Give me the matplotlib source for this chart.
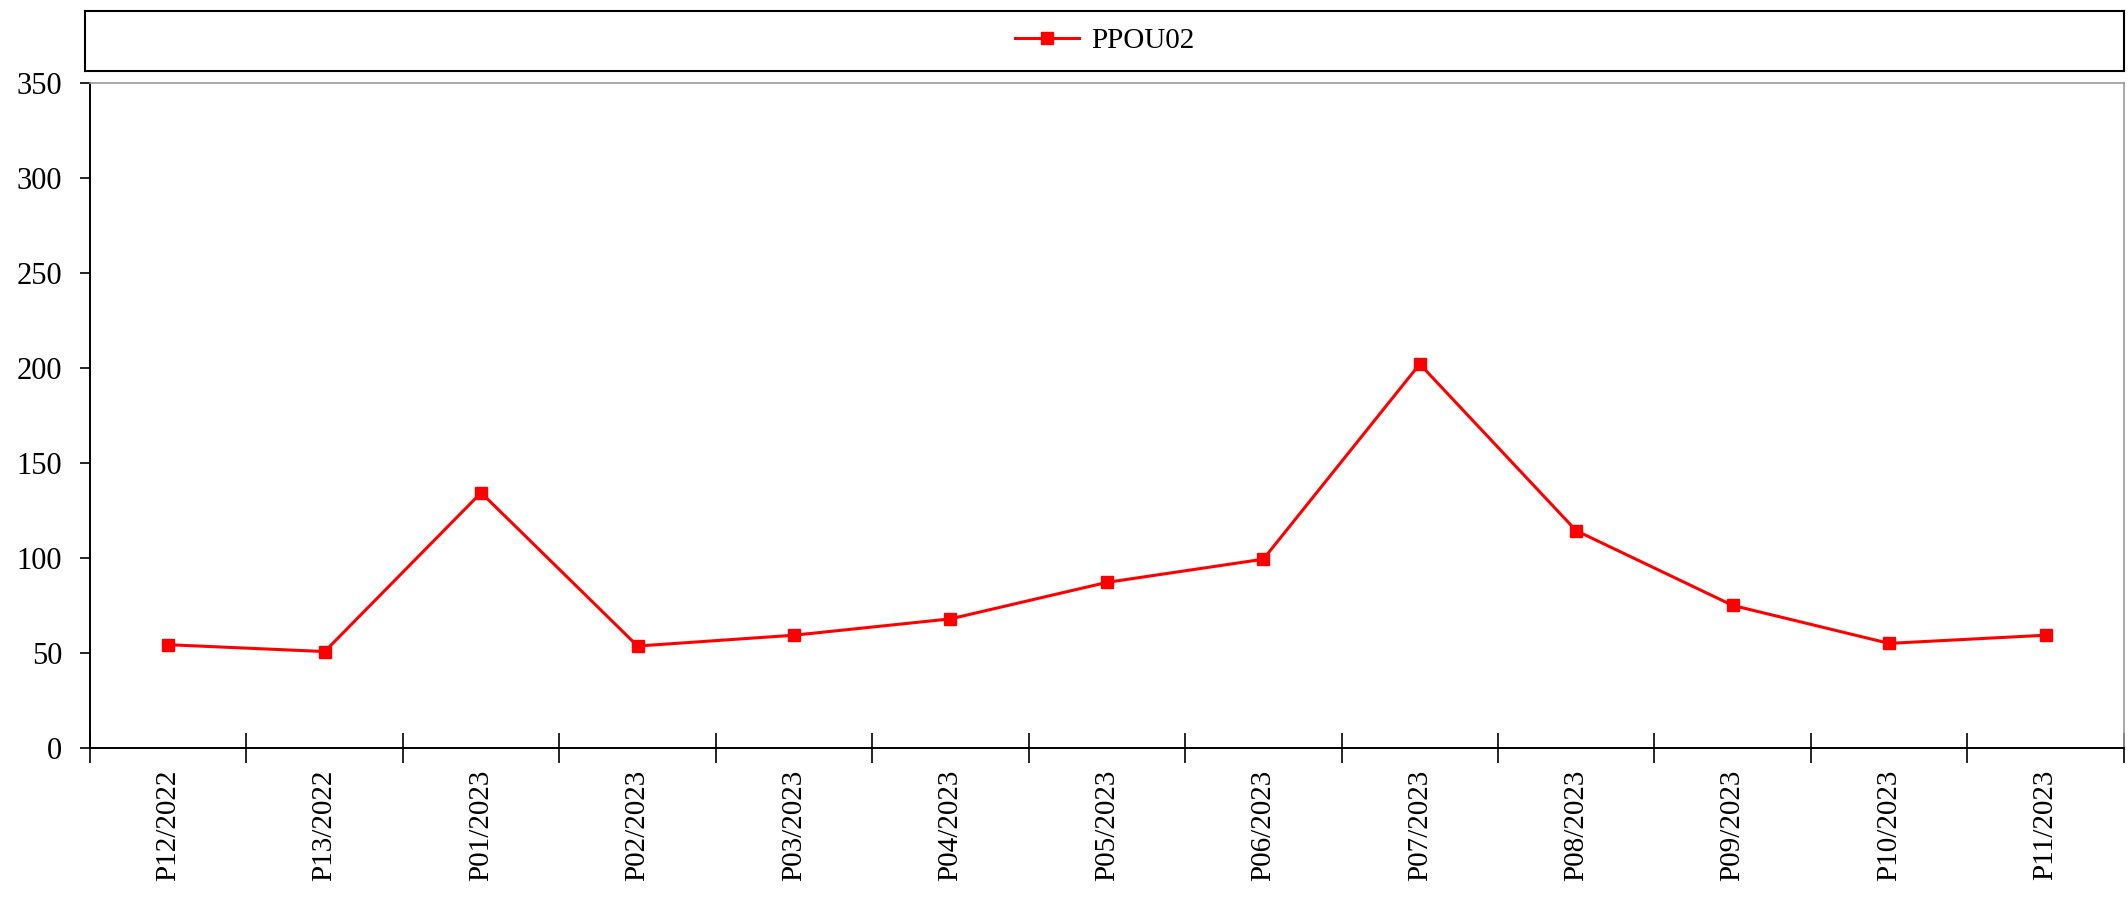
import numpy as np
import matplotlib.pyplot as plt

# periods and values
periods = ['P12/2022', 'P13/2022', 'P01/2023', 'P02/2023', 'P03/2023', 'P04/2023',
           'P05/2023', 'P06/2023', 'P07/2023', 'P08/2023', 'P09/2023', 'P10/2023', 'P11/2023']
values = [54.3, 50.7, 134.3, 53.6, 59.3, 67.9, 87.1, 99.3, 202, 114.3, 75, 55, 59.3]
series_name = 'PPOU02'
y_ticks = [0, 50, 100, 150, 200, 250, 300, 350]

plt.rcParams['font.family'] = ['Liberation Serif', 'DejaVu Serif']

fig = plt.figure(figsize=(21.28, 9), dpi=100)
ax = fig.add_axes([0.0423, 0.169, 0.9557, 0.739])

x = np.arange(len(periods))
line, = ax.plot(x, values, color='#ff0000', linewidth=2.2, marker='s', markersize=8,
                label=series_name)

ax.set_xlim(-0.5, len(periods) - 0.5)
ax.set_ylim(0, 350)
ax.set_yticks(y_ticks)
ax.tick_params(axis='y', labelsize=22, length=7, width=1.2, direction='out', pad=13)

# category labels at centres, tick marks at boundaries
ax.set_xticks(x)
ax.set_xticklabels(periods, rotation=90, fontsize=21)
ax.tick_params(axis='x', which='major', length=0, pad=16)
ax.set_xticks(np.arange(len(periods) + 1) - 0.5, minor=True)
ax.tick_params(axis='x', which='minor', length=22, width=1.2, direction='inout')

for side in ['left', 'bottom']:
    ax.spines[side].set_linewidth(1.4)
for side in ['top', 'right']:
    ax.spines[side].set_color('#999999')
    ax.spines[side].set_linewidth(1.2)

# legend in its own framed box above the plot
lax = fig.add_axes([0.040, 0.921, 0.958, 0.067])
lax.set_xticks([])
lax.set_yticks([])
for s in lax.spines.values():
    s.set_linewidth(1.5)
lax.legend(handles=[line], loc='center', frameon=False, fontsize=21,
           handlelength=2.2, handletextpad=0.4)

fig.savefig('out.png', dpi=100)
